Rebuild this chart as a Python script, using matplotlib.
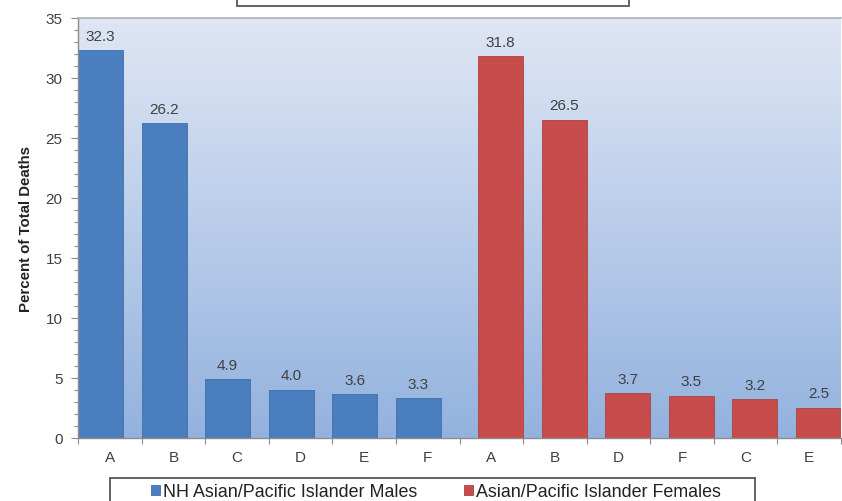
import numpy as np
import matplotlib
matplotlib.use("Agg")
import matplotlib.pyplot as plt
from matplotlib.patches import Rectangle
from matplotlib.colors import LinearSegmentedColormap

plt.rcParams['font.family'] = ['Liberation Sans', 'DejaVu Sans']

male_labels = ["A", "B", "C", "D", "E", "F"]
male_values = [32.3, 26.2, 4.9, 4.0, 3.6, 3.3]
female_labels = ["A", "B", "D", "F", "C", "E"]
female_values = [31.8, 26.5, 3.7, 3.5, 3.2, 2.5]
series_names = ["NH Asian/Pacific Islander Males", "Asian/Pacific Islander Females"]
y_label = "Percent of Total Deaths"

blue = "#4a7ebf"
red = "#c64d4b"
text_col = "#404040"
axis_col = "#8c8c8c"

fig = plt.figure(figsize=(8.42, 5.02), dpi=100)
ax = fig.add_axes([78 / 842, 63.5 / 502, 763 / 842, 420 / 502])

n_m = len(male_values)
n_f = len(female_values)
n = n_m + n_f
xs_m = np.arange(n_m)
xs_f = np.arange(n_m, n)
width = 0.707
shift = (1 - width) / 2

# gradient plot-area background
grad = np.linspace(0, 1, 256).reshape(-1, 1)
cmap = LinearSegmentedColormap.from_list("bg", ["#93b2de", "#b9cdea", "#dfe6f4"])
ax.imshow(grad, extent=(-0.5, n - 0.5, 0, 35), origin="lower", aspect="auto",
          cmap=cmap, zorder=0, interpolation="bicubic")

bm = ax.bar(xs_m - shift, male_values, width=width, color=blue,
            edgecolor="#3f6fa9", linewidth=0.6, zorder=2, label=series_names[0])
bf = ax.bar(xs_f + shift, female_values, width=width, color=red,
            edgecolor="#a84340", linewidth=0.6, zorder=2, label=series_names[1])

for rect, v in zip(list(bm) + list(bf), male_values + female_values):
    ax.text(rect.get_x() + rect.get_width() / 2, v + 0.6, f"{v:.1f}",
            ha="center", va="bottom", fontsize=11, color=text_col, zorder=3)

ax.set_xlim(-0.5, n - 0.5)
ax.set_ylim(0, 35)
ax.set_xticks(np.arange(n))
ax.set_xticklabels(male_labels + female_labels, fontsize=11, color=text_col)
ax.set_xticks(np.arange(n + 1) - 0.5, minor=True)
ax.tick_params(axis="x", which="major", length=0, pad=9)
ax.tick_params(axis="x", which="minor", length=4, color=axis_col, width=0.8)

ax.set_yticks(np.arange(0, 36, 5))
ax.set_yticks(np.arange(0, 36, 1), minor=True)
ax.tick_params(axis="y", which="major", length=5, color=axis_col, width=0.8,
               labelsize=11, labelcolor=text_col, pad=6)
ax.tick_params(axis="y", which="minor", length=3, color=axis_col, width=0.8)

ax.set_ylabel(y_label, fontsize=10.8, fontweight="bold", color="#222222", labelpad=9)

for side in ["left", "bottom"]:
    ax.spines[side].set_color(axis_col)
    ax.spines[side].set_linewidth(1.0)
ax.spines["top"].set_color("#b0b0b0")
ax.spines["top"].set_linewidth(1.2)
ax.spines["right"].set_visible(False)

# legend entries with a separately drawn frame running off the bottom edge
leg = fig.legend(handles=[bm, bf], loc="center left",
                 bbox_to_anchor=(151 / 842, 9.5 / 502), ncol=2,
                 fontsize=12.9, frameon=False, borderpad=0, borderaxespad=0,
                 handlelength=0.5, handleheight=0.5, handletextpad=0.15,
                 columnspacing=2.65)
for t in leg.get_texts():
    t.set_color("#222222")
fig.patches.append(Rectangle((110 / 842, -0.1), 645 / 842, 0.1 + 23 / 502,
                             transform=fig.transFigure, facecolor="white",
                             edgecolor="#555555", linewidth=1.3, zorder=0))

# title frame at top
fig.patches.append(Rectangle((237 / 842, 495 / 502), 392 / 842, 0.2,
                             transform=fig.transFigure, facecolor="white",
                             edgecolor="#555555", linewidth=1.3))

fig.savefig("out.png", dpi=100)
